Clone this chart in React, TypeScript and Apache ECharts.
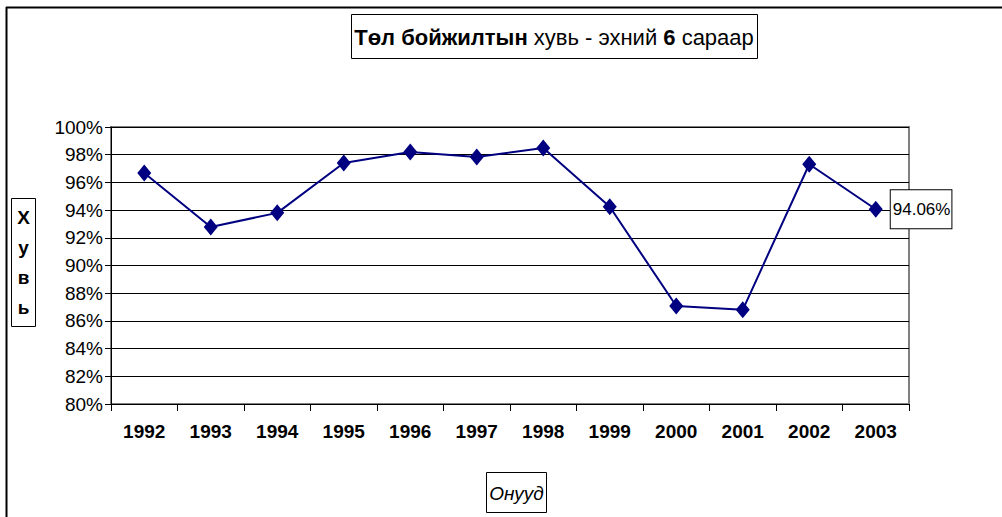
import React, { useEffect, useRef } from "react";
import * as echarts from "echarts";

const years = ["1992", "1993", "1994", "1995", "1996", "1997", "1998", "1999", "2000", "2001", "2002", "2003"];
const survivalPct = [96.68, 92.78, 93.8, 97.4, 98.2, 97.83, 98.48, 94.24, 87.08, 86.8, 97.31, 94.06];
const titleBold1 = "Төл бойжилтын";
const titleNormal1 = " хувь - эхний ";
const titleBold2 = "6";
const titleNormal2 = " сараар";
const yTitleLetters = ["Х", "у", "в", "ь"];
const xTitle = "Онууд";

const FONT = "'Liberation Sans', Arial, sans-serif";

export default function App() {
  const ref = useRef<HTMLDivElement>(null);
  useEffect(() => {
    if (!ref.current) return;
    const chart = echarts.init(ref.current, undefined, { renderer: "svg" });
    const lastIdx = survivalPct.length - 1;
    chart.setOption({
      animation: false,
      backgroundColor: "#ffffff",
      grid: {
        left: 111,
        top: 127,
        width: 798,
        height: 277,
        show: true,
        borderColor: "#808080",
        borderWidth: 2,
        backgroundColor: "transparent",
      },
      xAxis: {
        type: "category",
        data: years,
        boundaryGap: true,
        axisLine: { show: true, lineStyle: { color: "#000", width: 1 } },
        axisTick: { show: true, length: 7, alignWithLabel: false, lineStyle: { color: "#000" } },
        axisLabel: {
          margin: 18,
          fontFamily: FONT,
          fontWeight: "bold",
          fontSize: 19,
          color: "#000",
        },
        splitLine: { show: false },
      },
      yAxis: {
        type: "value",
        min: 80,
        max: 100,
        interval: 2,
        axisLine: { show: true, lineStyle: { color: "#000", width: 1 } },
        axisTick: { show: true, length: 6, lineStyle: { color: "#000" } },
        axisLabel: {
          formatter: "{value}%",
          margin: 8,
          fontFamily: FONT,
          fontSize: 19,
          color: "#000",
        },
        splitLine: { show: true, lineStyle: { color: "#000", width: 1 } },
      },
      series: [
        {
          type: "line",
          data: survivalPct.map((v, i) =>
            i === lastIdx
              ? {
                  value: v,
                  label: {
                    show: true,
                    position: "right",
                    distance: 8,
                    formatter: v.toFixed(2) + "%",
                    fontFamily: FONT,
                    fontSize: 17,
                    color: "#000",
                    backgroundColor: "#fff",
                    borderColor: "#000",
                    borderWidth: 1,
                    padding: [11, 1, 10, 2],
                  },
                }
              : v
          ),
          symbol: "diamond",
          symbolSize: [14, 17],
          lineStyle: { color: "#000080", width: 2 },
          itemStyle: { color: "#000080" },
        },
      ],
      graphic: [
        { type: "line", shape: { x1: 6.5, y1: 7, x2: 6.5, y2: 517 }, style: { stroke: "#000", lineWidth: 2 } },
        { type: "line", shape: { x1: 6, y1: 7.5, x2: 1002, y2: 7.5 }, style: { stroke: "#000", lineWidth: 2 } },
        {
          type: "rect",
          shape: { x: 351.5, y: 14.5, width: 406, height: 44 },
          style: { fill: "#fff", stroke: "#000", lineWidth: 1 },
        },
        {
          type: "text",
          x: 554,
          y: 37,
          style: {
            text: `{b|${titleBold1}}{n|${titleNormal1}}{b|${titleBold2}}{n|${titleNormal2}}`,
            align: "center",
            verticalAlign: "middle",
            rich: {
              b: { fontFamily: FONT, fontWeight: "bold", fontSize: 22, fill: "#000" },
              n: { fontFamily: FONT, fontSize: 22, fill: "#000" },
            },
          },
        },
        {
          type: "rect",
          shape: { x: 11.5, y: 198.5, width: 24, height: 128 },
          style: { fill: "#fff", stroke: "#000", lineWidth: 1 },
        },
        {
          type: "text",
          x: 23.5,
          y: 262,
          style: {
            text: yTitleLetters.join("\n"),
            align: "center",
            verticalAlign: "middle",
            fontFamily: FONT,
            fontWeight: "bold",
            fontSize: 19,
            lineHeight: 30,
            fill: "#000",
          },
        },
        {
          type: "rect",
          shape: { x: 486.5, y: 472.5, width: 60, height: 40 },
          style: { fill: "#fff", stroke: "#000", lineWidth: 1 },
        },
        {
          type: "text",
          x: 516.5,
          y: 493,
          style: {
            text: xTitle,
            align: "center",
            verticalAlign: "middle",
            fontFamily: FONT,
            fontStyle: "italic",
            fontSize: 19,
            fill: "#000",
          },
        },
      ],
    });
    return () => chart.dispose();
  }, []);
  return (
    <div
      ref={ref}
      style={{ position: "absolute", left: 0, top: 0, width: 1002, height: 517 }}
    />
  );
}
